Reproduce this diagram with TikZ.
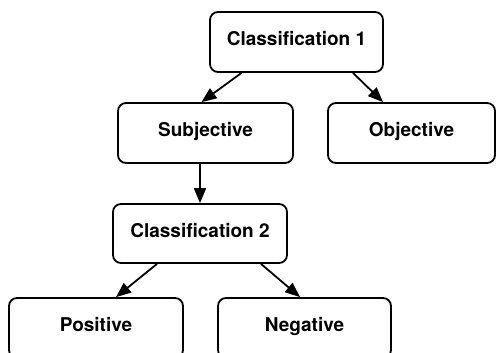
\documentclass[tikz,border=0pt]{standalone}
\usepackage{fontspec}
\setsansfont{TeX Gyre Heros}
\usetikzlibrary{arrows.meta}
\begin{document}
\begin{tikzpicture}[x=1pt, y=-1pt, font=\sffamily\bfseries\fontsize{19}{21}\selectfont,
      >={Triangle[length=15pt,width=12pt]},
      box/.style={draw, line width=1.8pt, rounded corners=8pt, align=center, minimum height=60pt,
        text height=0.72em, text depth=0pt}]
    \useasboundingbox (0,0) rectangle (496,353);
    \node[box, minimum width=173pt] (cls1) at (296.5,42) {Classification 1};
    \node[box, minimum width=175pt] (subj) at (205.5,133) {Subjective};
    \node[box, minimum width=167pt] (obj) at (411.5,133) {Objective};
    \node[box, minimum width=174pt, minimum height=59pt] (cls2) at (200,233.5) {Classification 2};
    \node[box, minimum width=174pt] (pos) at (96,328) {Positive};
    \node[box, minimum width=173pt] (neg) at (304.5,328) {Negative};
    \draw[->, line width=1.8pt] ([xshift=-55pt]cls1.south) -- ([xshift=-4pt]subj.north);
    \draw[->, line width=1.8pt] ([xshift=56.5pt]cls1.south) -- ([xshift=-28.5pt]obj.north);
    \draw[->, line width=1.8pt] (cls2.north |- subj.south) -- (cls2.north);
    \draw[->, line width=1.8pt] ([xshift=-43pt]cls2.south) -- ([xshift=20pt]pos.north);
    \draw[->, line width=1.8pt] ([xshift=61pt]cls2.south) -- ([xshift=-4.5pt]neg.north);
  \end{tikzpicture}
\end{document}
